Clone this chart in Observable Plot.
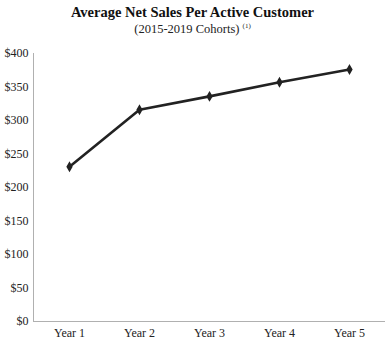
<!DOCTYPE html>
<html><head><meta charset="utf-8">
<script src="https://cdn.jsdelivr.net/npm/d3@7"></script>
<script src="https://cdn.jsdelivr.net/npm/@observablehq/plot@0.6"></script>
<style>
body{margin:0;background:#fff;font-family:"Liberation Serif","Times New Roman",serif;}
#title{width:385px;text-align:center;font-weight:bold;font-size:14.5px;line-height:16px;padding-top:4px;color:#111;}
#sub{width:385px;text-align:center;font-size:12.5px;line-height:12px;color:#222;height:20px;}
#sub sup{font-size:7px;vertical-align:5px;}
</style></head><body>
<div id="title">Average Net Sales Per Active Customer</div>
<div id="sub">(2015-2019 Cohorts) <sup>(1)</sup></div>
<div id="chart"></div>
<script>
const years = ["Year 1","Year 2","Year 3","Year 4","Year 5"];
const sales = [231, 316, 336, 357, 376];
const yTicks = [0,50,100,150,200,250,300,350,400];
const data = years.map((y,i)=>({year:y, value:sales[i]}));
const chart = Plot.plot({
  width:385, height:302,
  marginTop:13, marginBottom:21, marginLeft:33, marginRight:0,
  style:{fontFamily:"'Liberation Serif','Times New Roman',serif", fontSize:"12px", color:"#222", background:"#fff"},
  x:{type:"band", domain:years, padding:0, label:null},
  y:{domain:[0,400], label:null},
  marks:[
    Plot.axisY({ticks:yTicks, tickSize:0, tickPadding:5, tickFormat:d=>"$"+d, fontSize:12}),
    Plot.axisX({tickSize:0, tickPadding:7, fontSize:12}),
    Plot.ruleY([0],{stroke:"#b0b0b0", strokeWidth:1}),
    Plot.frame({anchor:"left", stroke:"#b0b0b0", strokeWidth:1}),
    Plot.line(data,{x:"year", y:"value", stroke:"#222", strokeWidth:2.6}),
    Plot.dot(data,{x:"year", y:"value", symbol:"diamond", r:2.4, fill:"#222", stroke:"#222"})
  ]
});
document.getElementById("chart").appendChild(chart);
</script>
</body></html>
